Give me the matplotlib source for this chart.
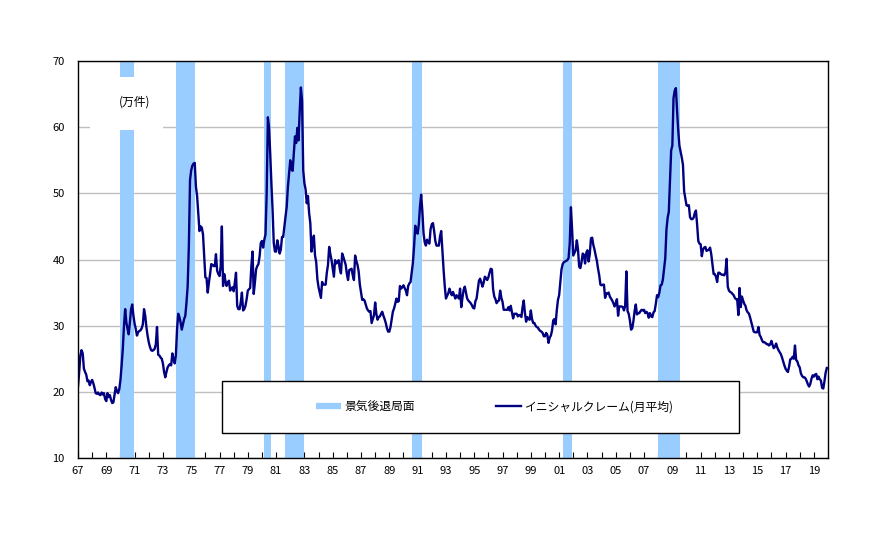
import numpy as np
import matplotlib
matplotlib.use("Agg")
import matplotlib.pyplot as plt
from matplotlib.patches import Rectangle
from matplotlib.lines import Line2D

plt.rcParams['font.family'] = ['Noto Sans CJK JP', 'DejaVu Sans']

# Monthly average of weekly initial claims (10k), Jan 1967 - Dec 2019
claims_1960s = [
    20.8, 23.0, 25.5, 26.3, 25.8, 23.5, 23.0, 22.6, 21.6, 21.7, 21.0, 21.5,   # 1967
    21.8, 21.3, 20.6, 19.8, 19.7, 19.9, 19.6, 19.5, 19.9, 19.6, 19.8, 18.9,   # 1968
    18.6, 19.8, 19.2, 19.5, 18.8, 18.3, 18.4, 19.5, 20.7, 20.1, 19.8, 20.4,   # 1969
]
claims_1970s = [
    21.8, 24.0, 26.5, 30.0, 32.5, 30.5, 29.5, 28.7, 30.5, 32.5, 33.2, 31.5,   # 1970
    30.3, 29.5, 28.5, 29.0, 29.2, 29.3, 29.6, 30.2, 32.5, 31.5, 29.8, 28.5,   # 1971
    27.5, 26.8, 26.3, 26.2, 26.3, 26.5, 27.2, 29.8, 25.6, 25.5, 25.2, 25.0,   # 1972
    24.3, 23.0, 22.2, 23.0, 23.7, 24.0, 24.2, 24.0, 25.8, 25.0, 24.3, 25.5,   # 1973
    29.5, 31.8, 31.3, 30.5, 29.4, 30.2, 31.0, 31.5, 33.5, 36.0, 42.0, 52.0,   # 1974
    53.5, 54.2, 54.5, 54.6, 51.0, 49.6, 47.0, 44.3, 45.0, 44.8, 43.8, 40.5,   # 1975
    37.3, 37.2, 35.0, 36.5, 37.8, 39.3, 39.2, 39.0, 39.0, 40.8, 38.3, 37.8,   # 1976
    37.5, 39.0, 45.0, 36.0, 37.8, 36.8, 36.0, 36.5, 36.8, 35.3, 35.6, 35.8,   # 1977
    35.2, 36.5, 38.0, 33.0, 32.5, 32.5, 33.5, 35.0, 32.3, 32.5, 33.0, 34.0,   # 1978
    35.3, 35.5, 35.7, 39.0, 41.2, 34.8, 36.5, 38.5, 39.0, 39.3, 40.5, 42.5,   # 1979
]
claims_1980s = [
    42.8, 41.8, 43.0, 43.8, 50.0, 61.5, 60.0, 56.0, 51.5, 47.5, 42.5, 41.2,   # 1980
    41.2, 42.9, 42.0, 40.9, 41.5, 43.4, 43.4, 45.0, 46.5, 48.0, 51.0, 53.0,   # 1981
    55.0, 53.6, 53.4, 56.0, 58.6, 57.6, 59.9, 58.0, 62.4, 66.0, 64.0, 53.5,   # 1982
    51.5, 50.6, 48.5, 49.6, 47.0, 45.5, 41.2, 42.5, 43.6, 40.6, 39.6, 37.0,   # 1983
    35.8, 35.0, 34.2, 36.6, 36.2, 36.2, 36.2, 38.0, 39.2, 41.9, 40.8, 39.9,   # 1984
    38.6, 37.4, 39.9, 39.4, 39.6, 39.9, 38.6, 37.9, 40.9, 40.4, 39.8, 39.2,   # 1985
    37.8, 36.9, 38.4, 38.5, 38.6, 37.6, 36.9, 40.6, 39.8, 39.2, 38.2, 36.2,   # 1986
    35.0, 33.9, 34.0, 33.8, 33.2, 32.6, 32.3, 32.1, 32.2, 30.4, 31.0, 31.6,   # 1987
    33.5, 31.8, 30.9, 31.3, 31.4, 31.8, 32.1, 31.5, 31.0, 30.4, 29.6, 29.1,   # 1988
    29.1, 29.8, 31.0, 32.1, 32.6, 33.3, 34.1, 33.6, 33.7, 36.0, 35.6, 35.8,   # 1989
]
claims_1990s = [
    36.1, 35.7, 35.3, 34.6, 36.0, 36.4, 36.6, 38.0, 39.5, 42.0, 45.1, 44.3,   # 1990
    43.9, 45.3, 48.0, 49.8, 47.3, 44.0, 42.6, 42.1, 43.0, 42.6, 42.4, 44.6,   # 1991
    45.3, 45.5, 44.3, 42.8, 42.1, 42.1, 42.1, 43.5, 44.3, 41.3, 38.5, 36.0,   # 1992
    34.1, 34.5, 34.9, 35.6, 35.0, 34.6, 35.1, 34.6, 34.1, 34.6, 34.4, 34.1,   # 1993
    35.6, 32.8, 34.2, 35.4, 35.9, 35.0, 34.1, 33.8, 33.6, 33.4, 33.1, 32.7,   # 1994
    32.6, 33.7, 34.1, 35.5, 36.8, 37.1, 36.5, 35.9, 36.5, 37.4, 37.2, 36.9,   # 1995
    37.3, 38.0, 38.6, 38.5, 35.5, 34.4, 34.0, 33.4, 33.7, 33.8, 35.3, 34.2,   # 1996
    33.6, 32.4, 32.4, 32.4, 32.4, 32.8, 32.3, 33.0, 32.0, 31.1, 31.8, 31.8,   # 1997
    31.8, 31.4, 31.6, 31.6, 31.3, 32.8, 33.8, 31.9, 30.6, 31.3, 31.0, 30.9,   # 1998
    32.3, 31.0, 30.4, 30.4, 30.0, 29.8, 29.7, 29.4, 29.2, 29.1, 28.9, 28.4,   # 1999
]
claims_2000s = [
    28.4, 28.9, 28.6, 27.4, 28.2, 28.5, 29.3, 30.8, 31.0, 30.2, 32.3, 33.9,   # 2000
    34.6, 36.6, 38.5, 39.3, 39.6, 39.7, 39.8, 39.9, 40.2, 42.5, 47.9, 44.5,   # 2001
    40.6, 41.0, 41.4, 42.9, 41.5, 38.9, 38.7, 39.6, 40.9, 40.7, 39.4, 41.0,   # 2002
    41.4, 39.7, 40.8, 43.2, 43.3, 42.2, 41.5, 40.6, 39.8, 38.6, 37.6, 36.2,   # 2003
    36.1, 36.2, 36.2, 34.2, 34.9, 34.8, 35.0, 34.4, 34.1, 33.8, 33.4, 32.9,   # 2004
    33.4, 34.0, 31.5, 32.9, 32.9, 32.9, 32.8, 32.3, 33.0, 38.2, 32.2, 31.8,   # 2005
    30.8, 29.4, 29.6, 30.7, 32.2, 33.2, 31.7, 31.9, 31.9, 32.2, 32.4, 32.3,   # 2006
    32.4, 31.9, 32.1, 31.9, 31.2, 31.9, 31.4, 31.3, 32.0, 32.2, 33.3, 34.6,   # 2007
    34.3, 35.0, 36.1, 36.2, 37.0, 38.6, 40.2, 44.5, 46.3, 47.2, 52.0, 56.5,   # 2008
    57.2, 64.4, 65.5, 65.9, 62.5, 59.5, 57.2, 56.3, 55.4, 54.3, 50.3, 49.2,   # 2009
]
claims_2010s = [
    48.2, 48.1, 48.2, 46.4, 46.1, 46.1, 46.3, 47.0, 47.4, 45.3, 42.8, 42.4,   # 2010
    42.3, 40.5, 41.5, 41.8, 41.9, 41.3, 41.4, 41.5, 41.8, 40.8, 39.3, 37.8,   # 2011
    37.8, 37.4, 36.6, 38.0, 38.0, 37.8, 37.7, 37.7, 37.6, 38.0, 40.1, 35.9,   # 2012
    35.3, 35.1, 35.0, 34.8, 34.6, 34.2, 34.0, 34.0, 31.6, 35.7, 32.8, 34.4,   # 2013
    33.8, 33.3, 33.0, 32.3, 32.0, 31.8, 31.2, 30.5, 29.8, 29.1, 29.0, 29.0,   # 2014
    29.0, 29.8, 28.6, 28.3, 27.8, 27.5, 27.5, 27.4, 27.2, 27.2, 27.0, 27.2,   # 2015
    27.7, 27.1, 26.6, 26.8, 27.3, 26.7, 26.3, 26.0, 25.7, 25.2, 24.6, 24.0,   # 2016
    23.5, 23.2, 23.0, 23.8, 24.9, 25.0, 25.3, 25.0, 27.0, 24.8, 24.6, 24.0,   # 2017
    23.7, 22.8, 22.4, 22.2, 22.2, 22.0, 21.6, 21.1, 20.8, 21.2, 22.0, 22.5,   # 2018
    22.3, 22.6, 22.7, 21.9, 22.3, 21.9, 21.7, 20.6, 20.5, 21.6, 22.9, 23.6,   # 2019
]
start_year = 1967

# Recession periods (decimal years, as drawn)
recession_starts = [1970.00, 1973.93, 1980.15, 1981.60, 1990.58, 2001.28, 2007.99]
recession_ends   = [1970.95, 1975.26, 1980.64, 1982.95, 1991.33, 2001.89, 2009.55]

tick_years = list(range(1967, 2020))
tick_labels = [f"{y % 100:02d}" if (y - 1967) % 2 == 0 else "" for y in tick_years]
y_ticks = [10, 20, 30, 40, 50, 60, 70]

legend_labels = ["景気後退局面", "イニシャルクレーム(月平均)"]
unit_label = "(万件)"

band_color = "#99CCFF"
line_color = "#000080"

claims = np.array(claims_1960s + claims_1970s + claims_1980s + claims_1990s
                  + claims_2000s + claims_2010s)
x = start_year + np.arange(len(claims)) / 12.0

fig = plt.figure(figsize=(8.94, 5.33), dpi=100)
ax = fig.add_axes([78/894, 1 - 458/533, 750/894, 397/533])

for s, e in zip(recession_starts, recession_ends):
    ax.axvspan(s, e, color=band_color, lw=0, zorder=1)

ax.plot(x, claims, color=line_color, lw=1.7, zorder=3, solid_joinstyle='round')

ax.set_xlim(1967, 2020)
ax.set_ylim(10, 70)
ax.set_yticks(y_ticks)
ax.set_xticks(tick_years)
ax.set_xticklabels(tick_labels)
ax.grid(axis='y', color='#C0C0C0', lw=1.0, zorder=0)
ax.set_axisbelow(True)
ax.tick_params(axis='x', direction='in', length=4, width=0.8, pad=6, labelsize=8)
ax.tick_params(axis='y', length=0, pad=9.5, labelsize=8)
for sp in ax.spines.values():
    sp.set_linewidth(1.0)
    sp.set_color('black')
    sp.set_zorder(5)

# unit label box
ax.add_patch(Rectangle((12/750, (458-130)/397), 73/750, 53/397, transform=ax.transAxes,
                       facecolor='white', edgecolor='none', zorder=2))
ax.text((135-78)/750, (458-102)/397, unit_label, transform=ax.transAxes,
        ha='center', va='center', fontsize=8.5, zorder=4)

# legend box
ax.add_patch(Rectangle(((222-78)/750, (458-433)/397), 517/750, 52/397, transform=ax.transAxes,
                       facecolor='white', edgecolor='black', lw=1.0, zorder=4))
handles = [Line2D([], [], color=band_color, lw=4.5, solid_capstyle='butt'),
           Line2D([], [], color=line_color, lw=1.7)]
leg = ax.legend(handles, legend_labels, loc='center', ncol=2, frameon=False,
                bbox_to_anchor=((495-78)/750, (458-407)/397), bbox_transform=ax.transAxes,
                fontsize=8.5, handlelength=2.1, handletextpad=0.3, columnspacing=6.9)
leg.set_zorder(6)

fig.savefig("out.png", dpi=100)
